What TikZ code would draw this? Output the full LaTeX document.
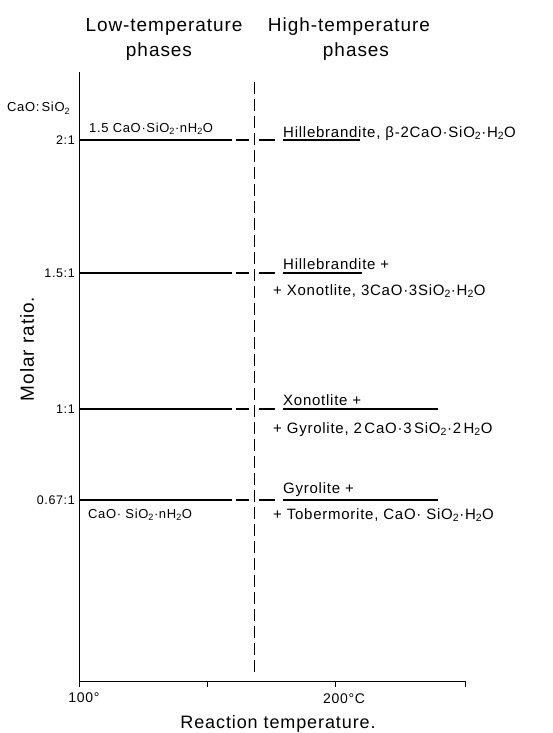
\documentclass[tikz,border=0pt]{standalone}
\usepackage{fontspec}
\setmainfont{Liberation Sans}[LetterSpace=5]
\newcommand{\sub}[1]{\textsubscript{#1}}
\begin{document}
\begin{tikzpicture}[x=1pt,y=-1pt,
  axis/.style={line width=0.7pt},
  phase/.style={line width=1.3pt},
  vdash/.style={line width=0.7pt, dash pattern=on 12pt off 5pt},
  title/.style={font=\fontsize{19}{21}\selectfont, anchor=base},
  lab/.style={font=\fontsize{15}{17}\selectfont, anchor=base west, inner sep=0pt},
  small/.style={font=\fontsize{13}{15}\selectfont, inner sep=0pt},
  ratio/.style={font=\fontsize{12.5}{14}\selectfont, anchor=east, inner sep=0pt}]
\useasboundingbox (0,0) rectangle (552,733);
% titles
\node[title] (lt1) at (164,32) {Low-temperature};
\node[title] (lt2) at (159,57) {phases};
\node[title] (ht1) at (349,32) {High-temperature};
\node[title] (ht2) at (356,57) {phases};
% axes
\coordinate (o) at (79,681);
\coordinate (ytop) at (79,72);
\coordinate (xend) at (465,681);
\draw[axis] (ytop) -- (o) -- (xend);
\foreach \x in {79,207,335,465} \draw[axis] (\x,681) -- (\x,687);
% dashed boundary
\coordinate (dtop) at (254,82);
\coordinate (dbot) at (254,673);
\draw[vdash] (dtop) -- (dbot);
% axis labels
\node[small, anchor=base west] (cs) at (7,112) {CaO:\,SiO\sub{2}};
\node[font=\fontsize{19}{21}\selectfont, rotate=90] (mr) at (27,349) {Molar ratio.};
\node[font=\fontsize{14}{16}\selectfont, anchor=base] (t100) at (84,702) {100°};
\node[font=\fontsize{14}{16}\selectfont, anchor=base] (t200) at (344,703) {200°C};
\node[font=\fontsize{18}{20}\selectfont, anchor=base] (rt) at (278,728) {Reaction temperature.};
% ratio rows
\foreach \y/\r/\e in {140/2:1/360, 273/1.5:1/362, 409/1:1/438, 500/0.67:1/438}{
  \node[ratio] at (75,\y) {\r};
  \draw[phase] (79,\y) -- (232,\y);
  \draw[phase] (236,\y) -- (249,\y);
  \draw[phase] (259,\y) -- (275,\y);
  \draw[phase] (283,\y) -- (\e,\y);
}
% low-temperature phase labels
\node[small, anchor=base west] (lp1) at (89,132) {1.5 CaO·SiO\sub{2}·nH\sub{2}O};
\node[small, anchor=base west] (lp2) at (88,518) {CaO· SiO\sub{2}·nH\sub{2}O};
% high-temperature phase labels
\node[lab] (h1) at (283,137) {Hillebrandite, β-2CaO·SiO\sub{2}·H\sub{2}O};
\node[lab] (h2a) at (283,269) {Hillebrandite +};
\node[lab] (h2b) at (273,295) {+ Xonotlite, 3CaO·3SiO\sub{2}·H\sub{2}O};
\node[lab] (h3a) at (283,405) {Xonotlite +};
\node[lab] (h3b) at (273,433) {+ Gyrolite, 2\,CaO·3\,SiO\sub{2}·2\,H\sub{2}O};
\node[lab] (h4a) at (283,493) {Gyrolite +};
\node[lab] (h4b) at (273,519) {+ Tobermorite, CaO· SiO\sub{2}·H\sub{2}O};
\end{tikzpicture}
\end{document}
